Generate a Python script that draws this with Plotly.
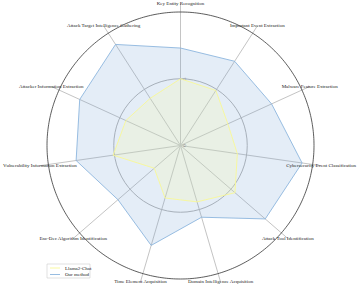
import numpy as np
import plotly.graph_objects as go

categories = [
    "Key Entity Recognition",
    "Important Event Extraction",
    "Malware Feature Extraction",
    "Cybersecurity Event Classification",
    "Attack Tool Identification",
    "Domain Intelligence Acquisition",
    "Time Element Acquisition",
    "Enc-Dec Algorithm Identification",
    "Vulnerability Information Extraction",
    "Attacker Information Extraction",
    "Attack Target Intelligence Gathering",
]
our_method = [7.3, 7.5, 7.5, 9.2, 8.4, 5.6, 7.8, 6.2, 7.9, 8.3, 9.0]
llama2_chat = [5.0, 4.9, 3.9, 4.3, 5.4, 4.4, 4.1, 2.6, 5.1, 4.5, 4.2]
series_names = ["Llama2-Chat", "Our method"]
radial_ticks = [0, 5]
radial_ticktext = ["0", "5"]

BLUE = "rgb(140,182,222)"
YELLOW = "rgb(248,248,150)"
R_MAX = 10.0
R_RANGE = 10.65
R_LABEL = 10.64
FONT_SIZE = 5.0

n = len(categories)
angles = [i * 360.0 / n for i in range(n)]

def closed(v):
    return list(v) + [v[0]]

fig = go.Figure()

fig.add_trace(go.Scatterpolar(
    r=closed(our_method), theta=closed(angles), mode="lines",
    line=dict(color=BLUE, width=0.9),
    fill="toself", fillcolor="rgba(120,165,215,0.2)",
    name=series_names[1], hoverinfo="skip", showlegend=False))

fig.add_trace(go.Scatterpolar(
    r=closed(llama2_chat), theta=closed(angles), mode="lines",
    line=dict(color=YELLOW, width=0.9),
    fill="toself", fillcolor="rgba(250,250,170,0.22)",
    name=series_names[0], hoverinfo="skip", showlegend=False))

circle_theta = np.linspace(0, 360, 361)
fig.add_trace(go.Scatterpolar(
    r=[R_MAX] * len(circle_theta), theta=circle_theta, mode="lines",
    line=dict(color="#333333", width=0.8), showlegend=False, hoverinfo="skip"))

fig.add_trace(go.Scatterpolar(
    r=[R_LABEL] * n, theta=angles, mode="text", text=categories,
    textposition="middle center", cliponaxis=False,
    textfont=dict(family="Liberation Serif", size=FONT_SIZE, color="#222222"),
    showlegend=False, hoverinfo="skip"))

W, H = 357, 288
cx, cy = 180.5, 145.5
rpx = 133.5 * R_RANGE / R_MAX

# manual legend (box, line samples, labels) in paper coordinates
lx0, lx1, ly0, ly1 = 47, 90, 264, 278
shapes = [dict(type="rect", xref="paper", yref="paper",
               x0=lx0 / W, x1=lx1 / W, y0=(H - ly1) / H, y1=(H - ly0) / H,
               line=dict(color="#cccccc", width=0.6), fillcolor="white")]
annotations = []
for i, (nm, col) in enumerate(zip(series_names, [YELLOW, BLUE])):
    yy = 268 + i * 6.5
    shapes.append(dict(type="line", xref="paper", yref="paper",
                       x0=50 / W, x1=60 / W, y0=(H - yy) / H, y1=(H - yy) / H,
                       line=dict(color=col, width=0.9)))
    annotations.append(dict(xref="paper", yref="paper", x=63 / W, y=(H - yy) / H,
                            text=nm, showarrow=False, xanchor="left", yanchor="middle",
                            font=dict(family="Liberation Serif", size=FONT_SIZE, color="#222222")))

fig.update_layout(
    width=W, height=H,
    margin=dict(l=0, r=0, t=0, b=0, autoexpand=False),
    paper_bgcolor="white", plot_bgcolor="white",
    showlegend=False,
    shapes=shapes, annotations=annotations,
    polar=dict(
        domain=dict(x=[(cx - rpx) / W, (cx + rpx) / W],
                    y=[(H - cy - rpx) / H, (H - cy + rpx) / H]),
        bgcolor="white",
        angularaxis=dict(
            rotation=90, direction="clockwise",
            tickmode="array", tickvals=angles, showticklabels=False,
            ticks="", showline=False,
            showgrid=True, gridcolor="#c4c4c4", gridwidth=0.7,
        ),
        radialaxis=dict(
            range=[0, R_RANGE], angle=90, tickangle=0,
            tickmode="array", tickvals=radial_ticks, ticktext=radial_ticktext,
            ticks="", showline=False, layer="above traces",
            showgrid=True, gridcolor="#b4b4b4", gridwidth=0.8,
            tickfont=dict(family="Liberation Serif", size=FONT_SIZE, color="#777777"),
        ),
    ),
)

fig.write_html(
    "out.html",
    config={"displayModeBar": False},
    post_script="document.body.style.margin='0';document.body.style.overflow='hidden';",
)
